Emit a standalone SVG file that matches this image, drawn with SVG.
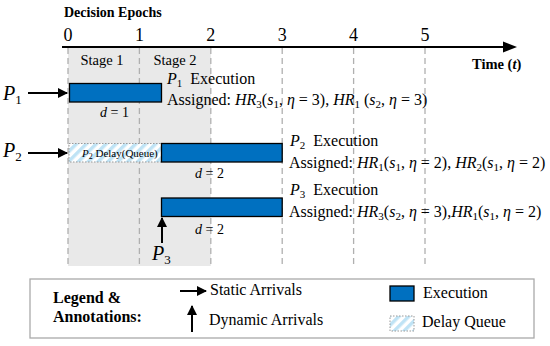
<svg xmlns="http://www.w3.org/2000/svg" width="550" height="346" viewBox="0 0 550 346" font-family="'Liberation Serif', 'Times New Roman', serif">
<defs>
<style>
text{font-family:'Liberation Serif','Times New Roman',serif;fill:#000}
.bold{font-weight:bold}
.m{font-style:italic}
.tick{font-size:18px}
.t16{font-size:16px}
.st{font-size:14.5px}
.dash{stroke:#b0b0b0;stroke-width:1.3;stroke-dasharray:6,4;fill:none}
.exec{fill:#0070C0;stroke:#000;stroke-width:1.3}
.delay{fill:url(#stripes);stroke:#999;stroke-width:1;stroke-dasharray:1.5,1.5}
.arr{stroke:#000;stroke-width:2;fill:none}
</style>
<pattern id="stripes" patternUnits="userSpaceOnUse" width="7" height="7" patternTransform="rotate(45)">
<rect width="7" height="7" fill="#ffffff"/>
<rect width="3.5" height="7" fill="#bfe3f5"/>
</pattern>
<marker id="ah" viewBox="0 0 10 10" refX="9" refY="5" markerWidth="5" markerHeight="5" orient="auto" markerUnits="strokeWidth">
<path d="M0,0 L10,5 L0,10 z" fill="#000"/>
</marker>
</defs>
<rect width="550" height="346" fill="#fff"/>

<g id="background">
<rect x="68" y="48" width="142.8" height="218" fill="#e9e9e9"/>
</g>

<g id="grid">
<line class="dash" x1="68" y1="48" x2="68" y2="266"/>
<line class="dash" x1="139.4" y1="48" x2="139.4" y2="266"/>
<line class="dash" x1="210.8" y1="48" x2="210.8" y2="266"/>
<line class="dash" x1="282.2" y1="48" x2="282.2" y2="266"/>
<line class="dash" x1="353.6" y1="48" x2="353.6" y2="266"/>
<line class="dash" x1="425" y1="48" x2="425" y2="266"/>
</g>

<g id="axis">
<text class="bold" x="64" y="17" font-size="14">Decision Epochs</text>
<line x1="62" y1="47" x2="506" y2="47" stroke="#000" stroke-width="2.2"/>
<path d="M503,41.5 L517,47 L503,52.5 z" fill="#000"/>
<text class="tick" x="68" y="41" text-anchor="middle">0</text>
<text class="tick" x="139.4" y="41" text-anchor="middle">1</text>
<text class="tick" x="210.8" y="41" text-anchor="middle">2</text>
<text class="tick" x="282.2" y="41" text-anchor="middle">3</text>
<text class="tick" x="353.6" y="41" text-anchor="middle">4</text>
<text class="tick" x="425" y="41" text-anchor="middle">5</text>
<text class="bold" x="472" y="68.5" font-size="14.5">Time (<tspan class="m">t</tspan>)</text>
<text class="st" x="102" y="65" text-anchor="middle">Stage 1</text>
<text class="st" x="175" y="65" text-anchor="middle">Stage 2</text>
</g>

<g id="P1">
<text x="3" y="100" font-size="20"><tspan class="m">P</tspan><tspan font-size="13" dy="4">1</tspan></text>
<rect class="exec" x="69.5" y="83.5" width="92" height="18.5"/>
<text class="m" x="100" y="117" font-size="14">d<tspan font-style="normal"> = 1</tspan></text>
<text class="t16" x="167" y="84"><tspan class="m">P</tspan><tspan font-size="11" dy="3">1</tspan><tspan dy="-3">&#160; Execution</tspan></text>
<text class="t16" x="167" y="105">Assigned: <tspan class="m">HR</tspan><tspan font-size="11" dy="3">3</tspan><tspan dy="-3">(</tspan><tspan class="m">s</tspan><tspan font-size="11" dy="3">1</tspan><tspan dy="-3">, </tspan><tspan class="m">η</tspan> = 3), <tspan class="m">HR</tspan><tspan font-size="11" dy="3">1</tspan><tspan dy="-3"> (</tspan><tspan class="m">s</tspan><tspan font-size="11" dy="3">2</tspan><tspan dy="-3">, </tspan><tspan class="m">η</tspan> = 3)</text>
</g>

<g id="P2">
<text x="3" y="157" font-size="20"><tspan class="m">P</tspan><tspan font-size="13" dy="4">2</tspan></text>
<rect class="delay" x="69" y="143.5" width="92.5" height="18.5"/>
<text x="82" y="157" font-size="11"><tspan class="m">P</tspan><tspan font-size="8" dy="2">2</tspan><tspan dy="-2"> Delay(Queue)</tspan></text>
<rect class="exec" x="161.5" y="143.5" width="120.7" height="18.5"/>
<text class="m" x="195" y="178" font-size="14">d<tspan font-style="normal"> = 2</tspan></text>
<text class="t16" x="290" y="146"><tspan class="m">P</tspan><tspan font-size="11" dy="3">2</tspan><tspan dy="-3">&#160; Execution</tspan></text>
<text class="t16" x="289" y="168">Assigned: <tspan class="m">HR</tspan><tspan font-size="11" dy="3">1</tspan><tspan dy="-3">(</tspan><tspan class="m">s</tspan><tspan font-size="11" dy="3">1</tspan><tspan dy="-3">, </tspan><tspan class="m">η</tspan> = 2), <tspan class="m">HR</tspan><tspan font-size="11" dy="3">2</tspan><tspan dy="-3">(</tspan><tspan class="m">s</tspan><tspan font-size="11" dy="3">1</tspan><tspan dy="-3">, </tspan><tspan class="m">η</tspan> = 2)</text>
</g>

<g id="P3">
<rect class="exec" x="161.5" y="198" width="120.7" height="18.5"/>
<text class="m" x="195" y="234" font-size="14">d<tspan font-style="normal"> = 2</tspan></text>
<text x="152" y="260" font-size="20"><tspan class="m">P</tspan><tspan font-size="13" dy="4">3</tspan></text>
<text class="t16" x="290" y="195"><tspan class="m">P</tspan><tspan font-size="11" dy="3">3</tspan><tspan dy="-3">&#160; Execution</tspan></text>
<text class="t16" x="289" y="217">Assigned: <tspan class="m">HR</tspan><tspan font-size="11" dy="3">3</tspan><tspan dy="-3">(</tspan><tspan class="m">s</tspan><tspan font-size="11" dy="3">2</tspan><tspan dy="-3">, </tspan><tspan class="m">η</tspan> = 3),<tspan class="m">HR</tspan><tspan font-size="11" dy="3">1</tspan><tspan dy="-3">(</tspan><tspan class="m">s</tspan><tspan font-size="11" dy="3">1</tspan><tspan dy="-3">, </tspan><tspan class="m">η</tspan> = 2)</text>
</g>

<g id="connectors">
<line class="arr" x1="28" y1="93" x2="67" y2="93" marker-end="url(#ah)"/>
<line class="arr" x1="28" y1="153" x2="67" y2="153" marker-end="url(#ah)"/>
<line class="arr" x1="162" y1="243" x2="162" y2="218" marker-end="url(#ah)"/>
</g>

<g id="legend">
<rect x="30" y="279" width="504" height="59" fill="#fff" stroke="#aaa" stroke-width="1.3"/>
<text class="bold" x="53" y="303" font-size="16">Legend &amp;</text>
<text class="bold" x="53" y="322" font-size="16">Annotations:</text>
<line class="arr" x1="180" y1="291" x2="206" y2="291" marker-end="url(#ah)"/>
<text x="210" y="295" font-size="16">Static Arrivals</text>
<line class="arr" x1="192" y1="332" x2="192" y2="306" marker-end="url(#ah)"/>
<text x="209" y="325" font-size="16">Dynamic Arrivals</text>
<rect class="exec" x="390" y="286" width="24" height="15"/>
<text x="423" y="298" font-size="16">Execution</text>
<rect class="delay" x="390" y="316" width="24" height="15"/>
<text x="422" y="327" font-size="16">Delay Queue</text>
</g>
</svg>
